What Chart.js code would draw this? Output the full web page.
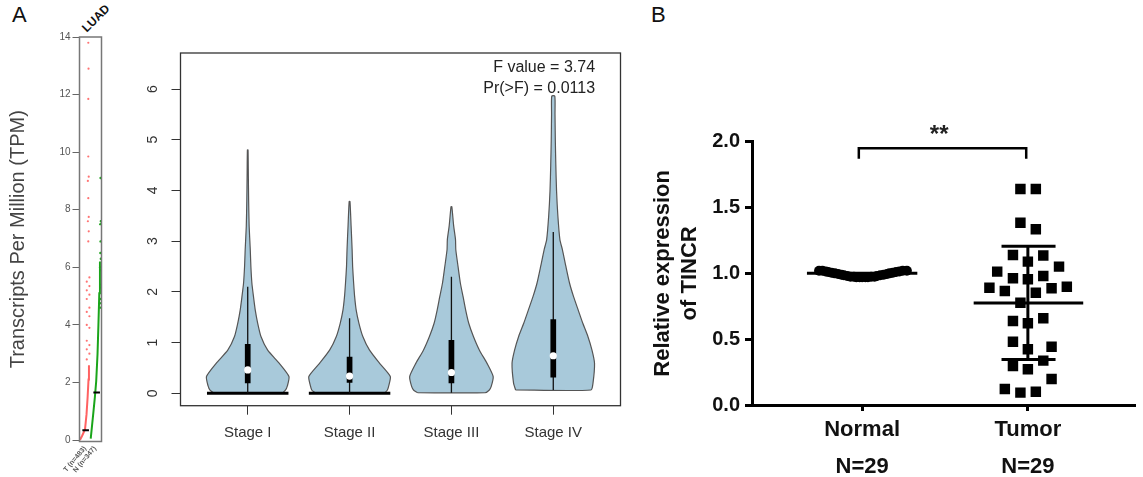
<!DOCTYPE html>
<html>
<head>
<meta charset="utf-8">
<script src="https://cdn.jsdelivr.net/npm/chart.js@4.4.1/dist/chart.umd.min.js"></script>
<style>
  body { margin: 0; width: 1143px; height: 477px; background: #fff; position: relative; overflow: hidden; font-family: "Liberation Sans", Arial, sans-serif; }
  .panel { position: absolute; }
  .tag { position: absolute; font-size: 22px; color: #111; }
  #luad { position: absolute; left: 84px; top: 23px; font-size: 12px; line-height: 14px; font-weight: bold; color: #111; transform: rotate(-45deg); transform-origin: left center; white-space: nowrap; }
</style>
</head>
<body>
<div class="tag" style="left:12px;top:2px">A</div>
<div class="tag" style="left:651px;top:2px">B</div>
<div id="luad">LUAD</div>
<div class="panel" style="left:0;top:20px;width:110px;height:457px"><canvas id="stripChart"></canvas></div>
<div class="panel" style="left:100px;top:40px;width:540px;height:420px"><canvas id="violinChart"></canvas></div>
<div class="panel" style="left:640px;top:100px;width:503px;height:377px"><canvas id="dotChart"></canvas></div>

<script>
// ---------- panel A, left strip (GEPIA dot plot, LUAD) ----------
const stripGroups = ['T (n=483)', 'N (n=347)'];
const stripGroupX = [0.25, 0.70];
const stripTicks = [0, 2, 4, 6, 8, 10, 12, 14];

// x here is just the position inside the narrow box (0..1)
const tumorCurveX = [0.02, 0.12, 0.25, 0.32, 0.37, 0.41, 0.43];
const tumorCurveY = [0.0, 0.15, 0.37, 0.9, 1.5, 2.1, 2.6];
const tumorDotsX = [0.33, 0.45, 0.33, 0.45, 0.33, 0.45, 0.33, 0.45, 0.33, 0.45, 0.33, 0.45, 0.33, 0.45, 0.33, 0.45, 0.40, 0.42, 0.38, 0.42, 0.40, 0.38, 0.42, 0.40, 0.40, 0.41, 0.40];
const tumorDotsY = [2.8, 3.0, 3.15, 3.3, 3.45, 3.9, 4.0, 4.3, 4.45, 4.6, 4.9, 5.05, 5.2, 5.35, 5.5, 5.65, 6.9, 7.25, 7.6, 7.75, 8.4, 9.0, 9.15, 9.85, 11.85, 12.9, 13.8];
const normalCurveX = [0.51, 0.57, 0.63, 0.70, 0.76, 0.82, 0.86, 0.90, 0.93];
const normalCurveY = [0.05, 0.5, 0.95, 1.5, 2.05, 3.0, 4.0, 5.1, 6.2];
const normalDotsX = [0.95, 0.93, 0.96, 0.95, 0.97, 0.96, 0.94, 0.97, 0.95, 0.96, 0.95, 0.97, 0.96];
const normalDotsY = [4.6, 4.75, 4.9, 5.3, 5.4, 5.9, 6.0, 6.3, 6.5, 6.9, 7.5, 7.6, 9.1];
const stripMedians = [0.34, 1.65];
const stripMedianFrom = [0.13, 0.63];
const stripMedianTo = [0.43, 0.93];

// ---------- panel A, violins by stage ----------
const stages = ['Stage I', 'Stage II', 'Stage III', 'Stage IV'];
const violinTicks = [0, 1, 2, 3, 4, 5, 6];
// [TPM, half width in category units]
const violinStageI = [[0, 0.33], [0.06, 0.37], [0.15, 0.39], [0.33, 0.405], [0.59, 0.31], [0.85, 0.196], [1.12, 0.13], [1.38, 0.098], [1.64, 0.074], [1.9, 0.057], [2.17, 0.041], [2.5, 0.031], [2.83, 0.025], [3.3, 0.014], [3.8, 0.009], [4.3, 0.006], [4.8, 0.003]];
const violinStageII = [[0, 0.33], [0.06, 0.37], [0.15, 0.385], [0.33, 0.40], [0.59, 0.295], [0.85, 0.196], [1.12, 0.13], [1.38, 0.092], [1.64, 0.065], [1.9, 0.05], [2.17, 0.04], [2.5, 0.03], [2.83, 0.025], [3.3, 0.015], [3.78, 0.004]];
const violinStageIII = [[0.01, 0.33], [0.06, 0.37], [0.13, 0.39], [0.33, 0.41], [0.59, 0.35], [0.85, 0.275], [1.12, 0.216], [1.38, 0.17], [1.64, 0.14], [1.9, 0.115], [2.17, 0.088], [2.5, 0.065], [2.83, 0.043], [3.03, 0.04], [3.3, 0.022], [3.68, 0.004]];
const violinStageIV = [[0.065, 0.37], [0.2, 0.39], [0.59, 0.405], [0.85, 0.38], [1.12, 0.34], [1.38, 0.29], [1.64, 0.245], [1.9, 0.20], [2.17, 0.16], [2.5, 0.124], [2.83, 0.09], [3.03, 0.065], [3.5, 0.045], [4.0, 0.032], [4.5, 0.025], [5.0, 0.02], [5.5, 0.017], [5.86, 0.015]];
const violins = [violinStageI, violinStageII, violinStageIII, violinStageIV];
const boxQ1 = [0.20, 0.21, 0.20, 0.31];
const boxQ3 = [0.97, 0.72, 1.05, 1.46];
const medians = [0.46, 0.34, 0.41, 0.74];
const whiskerLow = [0, 0, 0.01, 0.065];
const whiskerHigh = [2.1, 1.48, 2.3, 3.18];
const zeroBarHalf = [0.40, 0.40, 0, 0];
const fValue = 'F value = 3.74';
const pValue = 'Pr(>F) = 0.0113';

// ---------- panel B, TINCR qPCR ----------
const groups = ['Normal', 'Tumor'];
const groupN = ['N=29', 'N=29'];
const bTicks = [0, 0.5, 1.0, 1.5, 2.0];
const normalJitter = [-0.26, -0.24, -0.22, -0.205, -0.185, -0.165, -0.145, -0.125, -0.11, -0.09, -0.07, -0.05, -0.035, -0.015, 0.0, 0.02, 0.035, 0.055, 0.075, 0.09, 0.11, 0.13, 0.15, 0.165, 0.185, 0.205, 0.225, 0.245, 0.27];
const normalValues = [1.02, 1.02, 1.015, 1.01, 1.005, 1.0, 0.995, 0.99, 0.985, 0.98, 0.975, 0.975, 0.97, 0.97, 0.97, 0.97, 0.97, 0.975, 0.975, 0.98, 0.985, 0.99, 0.995, 1.0, 1.005, 1.01, 1.015, 1.02, 1.02];
const tumorJitter = [-0.045, 0.048, -0.045, 0.048, -0.09, 0.093, 0.0, -0.185, 0.188, -0.09, 0.093, 0.0, -0.232, -0.139, 0.048, 0.143, 0.235, -0.045, -0.09, 0.0, 0.093, -0.09, 0.0, 0.143, -0.09, 0.0, 0.093, 0.143, -0.139, -0.045, 0.048];
const tumorValues = [1.641, 1.641, 1.385, 1.335, 1.14, 1.135, 1.089, 1.013, 1.051, 0.963, 0.98, 0.955, 0.891, 0.866, 0.853, 0.887, 0.899, 0.777, 0.638, 0.621, 0.659, 0.481, 0.423, 0.443, 0.296, 0.271, 0.337, 0.198, 0.122, 0.094, 0.101];
const groupMeans = [1.0, 0.775];
const tumorSD = 0.43;
const bracketY = [1.87, 1.95];
const sigLabel = '**';

Chart.defaults.font.family = '"Liberation Sans", Arial, sans-serif';
Chart.defaults.animation = false;

// box round the plotting area (R style)
const framePlugin = {
    id: 'frame',
    afterDraw(chart, args, opts) {
        if (!opts.width) return;
        const { ctx, chartArea: a } = chart;
        ctx.save();
        ctx.strokeStyle = opts.color;
        ctx.lineWidth = opts.width;
        ctx.strokeRect(a.left, a.top, a.right - a.left, a.bottom - a.top);
        ctx.restore();
    }
};

// text placed at data coordinates
const notesPlugin = {
    id: 'notes',
    afterDraw(chart, args, opts) {
        if (!opts.items) return;
        const ctx = chart.ctx;
        const xs = chart.scales.x, ys = chart.scales.y;
        opts.items.forEach(it => {
            ctx.save();
            ctx.font = it.font;
            ctx.fillStyle = it.color;
            ctx.textAlign = it.align;
            ctx.textBaseline = 'alphabetic';
            ctx.fillText(it.text, xs.getPixelForValue(it.x), ys.getPixelForValue(it.y));
            ctx.restore();
        });
    }
};

const seg = (x1, y1, x2, y2) => [{ x: x1, y: y1 }, { x: x2, y: y2 }];

// ---- strip chart ----
function drawStrip() {
    const datasets = [
        { data: tumorCurveX.map((x, i) => ({ x, y: tumorCurveY[i] })), borderColor: 'rgba(255,70,70,0.85)', borderWidth: 2, pointRadius: 0, order: 3 },
        { data: tumorDotsX.map((x, i) => ({ x, y: tumorDotsY[i] })), showLine: false, pointRadius: 1.1, pointBackgroundColor: 'rgba(255,80,80,0.8)', pointBorderWidth: 0, order: 3 },
        { data: normalCurveX.map((x, i) => ({ x, y: normalCurveY[i] })), borderColor: '#1aa51a', borderWidth: 2, pointRadius: 0, order: 2 },
        { data: normalDotsX.map((x, i) => ({ x, y: normalDotsY[i] })), showLine: false, pointRadius: 1.2, pointBackgroundColor: '#1aa51a', pointBorderWidth: 0, order: 2 }
    ];
    stripMedians.forEach((m, i) => {
        datasets.push({ data: seg(stripMedianFrom[i], m, stripMedianTo[i], m), borderColor: '#000', borderWidth: 2, pointRadius: 0, order: 0 });
    });

    new Chart(document.getElementById('stripChart'), {
        type: 'line',
        data: { datasets },
        plugins: [framePlugin],
        options: {
            responsive: true,
            maintainAspectRatio: false,
            layout: { padding: { top: 17, right: 8.5, left: 0, bottom: 0 } },
            plugins: { legend: { display: false }, tooltip: { enabled: false }, frame: { color: '#777', width: 1.5 } },
            scales: {
                x: {
                    type: 'linear', min: 0, max: 1,
                    afterBuildTicks: s => { s.ticks = stripGroupX.map(v => ({ value: v })); },
                    afterFit: s => { s.height = 35.5; s.paddingLeft = 0; s.paddingRight = 0; },
                    border: { display: false },
                    grid: { display: false, drawTicks: false },
                    ticks: { autoSkip: false, minRotation: 50, maxRotation: 50, padding: 3, color: '#555', font: { size: 7, weight: 'bold' }, callback: (v, i) => stripGroups[i] }
                },
                y: {
                    min: -0.05, max: 14,
                    afterBuildTicks: s => { s.ticks = stripTicks.map(v => ({ value: v })); },
                    afterFit: s => { s.width = 79.5; s.paddingTop = 0; s.paddingBottom = 0; },
                    border: { display: false },
                    grid: { drawOnChartArea: false, tickLength: 7, color: '#666' },
                    ticks: { padding: 2, color: '#555', font: { size: 10 } },
                    title: { display: true, text: 'Transcripts Per Million (TPM)', color: '#444', font: { size: 20 }, padding: { top: 6, bottom: 0 } }
                }
            }
        }
    });
}

// ---- violin chart ----
function drawViolins() {
    const datasets = [];
    violins.forEach((profile, i) => {
        const c = i + 1;
        const left = profile.map(([v, w]) => ({ x: c - w, y: v }));
        const right = profile.slice().reverse().map(([v, w]) => ({ x: c + w, y: v }));
        datasets.push({
            data: left.concat(right, [left[0]]),
            backgroundColor: '#a8c9da', borderColor: '#555', borderWidth: 1.2,
            fill: 'shape', tension: 0.2, pointRadius: 0, order: 5
        });
        if (zeroBarHalf[i] > 0) {
            datasets.push({ data: seg(c - zeroBarHalf[i], 0, c + zeroBarHalf[i], 0), borderColor: '#000', borderWidth: 3, pointRadius: 0, order: 4 });
        }
        datasets.push({ data: seg(c, whiskerLow[i], c, whiskerHigh[i]), borderColor: '#111', borderWidth: 1.3, pointRadius: 0, order: 3 });
        datasets.push({ data: seg(c, boxQ1[i], c, boxQ3[i]), borderColor: '#000', borderWidth: 5.7, pointRadius: 0, order: 2 });
        datasets.push({ data: [{ x: c, y: medians[i] }], showLine: false, pointRadius: 3.6, pointBackgroundColor: '#fff', pointBorderWidth: 0, order: 1 });
    });

    new Chart(document.getElementById('violinChart'), {
        type: 'line',
        data: { datasets },
        plugins: [framePlugin, notesPlugin],
        options: {
            responsive: true,
            maintainAspectRatio: false,
            layout: { padding: { top: 13, right: 19.5, left: 0, bottom: 0 } },
            plugins: {
                legend: { display: false }, tooltip: { enabled: false },
                frame: { color: '#333', width: 1.3 },
                notes: {
                    items: [
                        { text: fValue, x: 4.41, y: 6.33, font: '16px "Liberation Sans", Arial, sans-serif', color: '#222', align: 'right' },
                        { text: pValue, x: 4.41, y: 5.93, font: '16px "Liberation Sans", Arial, sans-serif', color: '#222', align: 'right' }
                    ]
                }
            },
            scales: {
                x: {
                    type: 'linear', min: 0.34, max: 4.66,
                    afterBuildTicks: s => { s.ticks = stages.map((_, i) => ({ value: i + 1 })); },
                    afterFit: s => { s.height = 54.3; s.paddingLeft = 0; s.paddingRight = 0; },
                    border: { display: false },
                    grid: { drawOnChartArea: false, tickLength: 9, color: '#333' },
                    ticks: { autoSkip: false, maxRotation: 0, padding: 9, color: '#333', font: { size: 15 }, callback: v => stages[v - 1] }
                },
                y: {
                    min: -0.245, max: 6.71,
                    afterBuildTicks: s => { s.ticks = violinTicks.map(v => ({ value: v })); },
                    afterFit: s => { s.width = 80.5; s.paddingTop = 0; s.paddingBottom = 0; },
                    border: { display: false },
                    grid: { drawOnChartArea: false, tickLength: 9, color: '#333' },
                    ticks: { minRotation: 90, maxRotation: 90, crossAlign: 'center', padding: 14, color: '#333', font: { size: 14 } }
                }
            }
        }
    });
}

// ---- scatter with mean +/- SD ----
function drawDots() {
    const [mN, mT] = groupMeans;
    const datasets = [
        { data: normalJitter.map((j, i) => ({ x: 1 + j, y: normalValues[i] })), showLine: false, pointStyle: 'circle', pointRadius: 5, pointBackgroundColor: '#000', pointBorderWidth: 0 },
        { data: tumorJitter.map((j, i) => ({ x: 2 + j, y: tumorValues[i] })), showLine: false, pointStyle: 'rect', pointRadius: 7.4, pointBackgroundColor: '#000', pointBorderWidth: 0 },
        { data: seg(0.667, mN, 1.333, mN), borderColor: '#000', borderWidth: 3, pointRadius: 0 },
        { data: seg(1.673, mT, 2.334, mT), borderColor: '#000', borderWidth: 3, pointRadius: 0 },
        { data: seg(2, mT - tumorSD, 2, mT + tumorSD), borderColor: '#000', borderWidth: 3, pointRadius: 0 },
        { data: seg(1.841, mT + tumorSD, 2.167, mT + tumorSD), borderColor: '#000', borderWidth: 3, pointRadius: 0 },
        { data: seg(1.841, mT - tumorSD, 2.167, mT - tumorSD), borderColor: '#000', borderWidth: 3, pointRadius: 0 },
        { data: [{ x: 0.98, y: bracketY[0] }, { x: 0.98, y: bracketY[1] }, { x: 1.99, y: bracketY[1] }, { x: 1.99, y: bracketY[0] }], borderColor: '#000', borderWidth: 2.5, pointRadius: 0 }
    ];

    new Chart(document.getElementById('dotChart'), {
        type: 'line',
        data: { datasets },
        plugins: [notesPlugin],
        options: {
            responsive: true,
            maintainAspectRatio: false,
            layout: { padding: { top: 41.7, right: 0, left: 0, bottom: 0 } },
            plugins: {
                legend: { display: false }, tooltip: { enabled: false },
                notes: { items: [{ text: sigLabel, x: 1.465, y: 1.995, font: 'bold 24px "Liberation Sans", Arial, sans-serif', color: '#222', align: 'center' }] }
            },
            scales: {
                x: {
                    type: 'linear', min: 0.3355, max: 2.65,
                    afterBuildTicks: s => { s.ticks = groups.map((_, i) => ({ value: i + 1 })); },
                    afterFit: s => { s.height = 72; s.paddingLeft = 0; s.paddingRight = 0; },
                    border: { display: true, color: '#000', width: 3 },
                    grid: { drawOnChartArea: false, tickLength: 6, tickWidth: 3, tickColor: '#000' },
                    ticks: { autoSkip: false, maxRotation: 0, padding: 0, color: '#111', font: { size: 22, weight: 'bold', lineHeight: 1.7 }, callback: v => [groups[v - 1], groupN[v - 1]] }
                },
                y: {
                    min: 0, max: 2,
                    afterBuildTicks: s => { s.ticks = bTicks.map(v => ({ value: v })); },
                    afterFit: s => { s.width = 112; s.paddingTop = 0; s.paddingBottom = 0; },
                    border: { display: true, color: '#000', width: 3 },
                    grid: { drawOnChartArea: false, tickLength: 7, tickWidth: 3, tickColor: '#000' },
                    ticks: { padding: 5, color: '#111', font: { size: 20, weight: 'bold' }, callback: v => v.toFixed(1) },
                    title: { display: true, text: ['Relative expression', 'of TINCR'], color: '#111', font: { size: 22, weight: 'bold', lineHeight: 1.2 }, padding: { top: 10, bottom: 0 } }
                }
            }
        }
    });
}

drawStrip();
drawViolins();
drawDots();
</script>
</body>
</html>
